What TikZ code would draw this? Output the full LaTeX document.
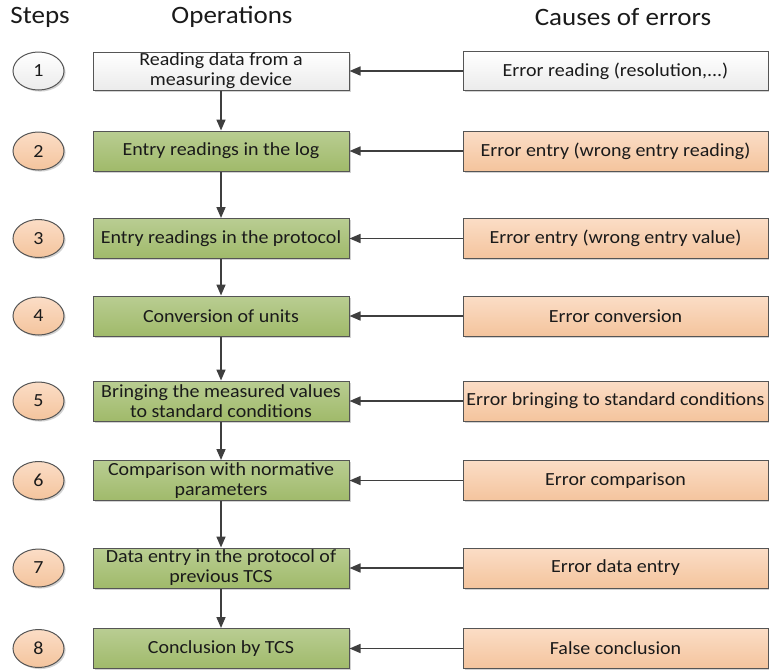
\documentclass[tikz,border=0pt]{standalone}
\usepackage{fontspec}
\setmainfont[FakeStretch=1.08]{Carlito}
\usetikzlibrary{arrows.meta,shadows,shapes.geometric}
\definecolor{txt}{HTML}{1A1A1A}
\definecolor{edge}{HTML}{555555}
\definecolor{lin}{HTML}{3F3F3F}
\definecolor{gtop}{HTML}{B9CD92}
\definecolor{gbot}{HTML}{A0BA6A}
\definecolor{otop}{HTML}{FBDDC6}
\definecolor{obot}{HTML}{F4C49D}
\definecolor{wbot}{HTML}{EBEBEB}
\tikzset{
  base/.style={draw=edge, line width=1pt, inner sep=0pt, align=center, text=txt,
    font=\fontsize{18.5}{20}\selectfont,
    drop shadow={shadow xshift=1.6pt, shadow yshift=-1.6pt, fill=black!22, opacity=0.8}},
  opbox/.style={base, rectangle, minimum width=256pt, minimum height=40pt},
  causebox/.style={base, rectangle, minimum width=305pt, minimum height=40pt},
  gfill/.style={top color=gtop, bottom color=gbot},
  ofill/.style={top color=otop, bottom color=obot},
  wfill/.style={top color=white, bottom color=wbot},
  stepcircle/.style={base, ellipse, minimum width=51pt, minimum height=38pt},
  head/.style={font=\fontsize{25}{28}\selectfont, text=txt, inner sep=0pt},
  conn/.style={draw=lin, line width=1.6pt, -{Triangle[length=11pt,width=9pt]}}
}
\begin{document}
\begin{tikzpicture}[x=1pt,y=-1pt]
\useasboundingbox (0,0) rectangle (769,670);

\node[head] (hs) at (40,17) {Steps};
\node[head] (ho) at (232,17) {Operations};
\node[head] (hc) at (623,17) {Causes of errors};

% rows
\node[stepcircle, wfill] (s1) at (38.5,71) {1};
\node[stepcircle, ofill] (s2) at (38.5,151) {2};
\node[stepcircle, ofill] (s3) at (38.5,238.5) {3};
\node[stepcircle, ofill] (s4) at (38.5,316) {4};
\node[stepcircle, ofill] (s5) at (38.5,401) {5};
\node[stepcircle, ofill] (s6) at (38.5,480.5) {6};
\node[stepcircle, ofill] (s7) at (38.5,568) {7};
\node[stepcircle, ofill] (s8) at (38.5,648.5) {8};

\node[opbox, wfill, minimum height=38pt] (o1) at (221,71) {Reading data from a\\measuring device};
\node[opbox, gfill] (o2) at (221,151) {Entry readings in the log};
\node[opbox, gfill] (o3) at (221,238.5) {Entry readings in the protocol};
\node[opbox, gfill] (o4) at (221,316) {Conversion of units};
\node[opbox, gfill] (o5) at (221,401) {Bringing the measured values\\to standard conditions};
\node[opbox, gfill] (o6) at (221,480.5) {Comparison with normative\\parameters};
\node[opbox, gfill] (o7) at (221,568) {Data entry in the protocol of\\previous TCS};
\node[opbox, gfill] (o8) at (221,648.5) {Conclusion by TCS};

\node[causebox, wfill, minimum height=39pt] (c1) at (615.5,71) {Error reading (resolution,...)};
\node[causebox, ofill] (c2) at (615.5,151) {Error entry (wrong entry reading)};
\node[causebox, ofill] (c3) at (615.5,238.5) {Error entry (wrong entry value)};
\node[causebox, ofill] (c4) at (615.5,316) {Error conversion};
\node[causebox, ofill] (c5) at (615.5,401) {Error bringing to standard conditions};
\node[causebox, ofill] (c6) at (615.5,480.5) {Error comparison};
\node[causebox, ofill] (c7) at (615.5,568) {Error data entry};
\node[causebox, ofill] (c8) at (615.5,648.5) {False conclusion};

\foreach \i in {1,...,8} {
  \draw[conn] (c\i.west) -- (o\i.east);
}
\foreach \i/\j in {1/2,2/3,3/4,4/5,5/6,6/7,7/8} {
  \draw[conn] (o\i.south) -- (o\j.north);
}
\end{tikzpicture}
\end{document}
